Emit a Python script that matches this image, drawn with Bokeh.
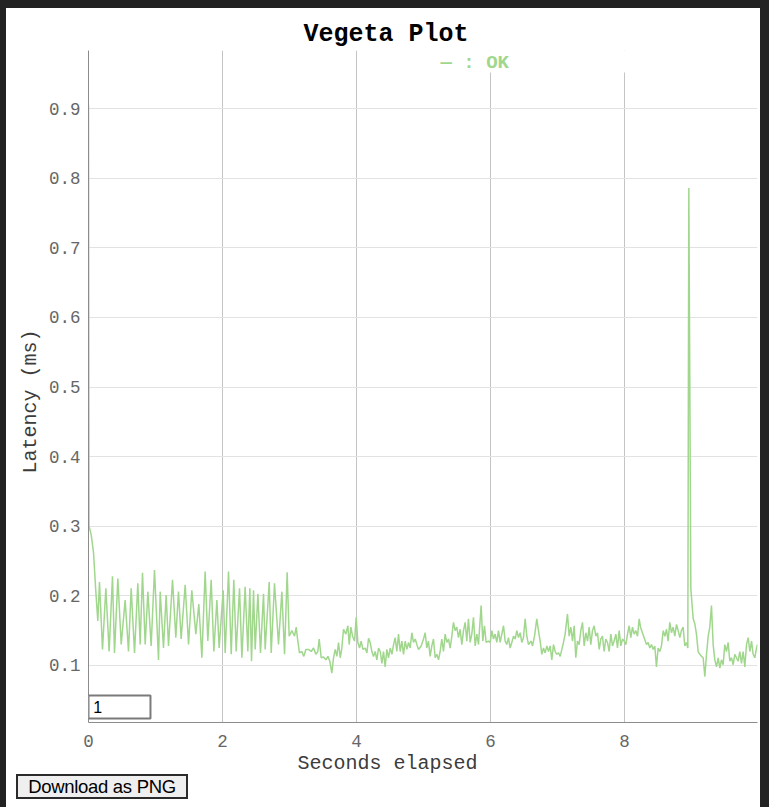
from bokeh.plotting import figure
from bokeh.models import ColumnDataSource, Range1d, FixedTicker, Label, BoxAnnotation, Title, Div
from bokeh.layouts import column
from bokeh.embed import file_html
from bokeh.resources import INLINE

# ---------------- data ----------------
chart_title = "Vegeta Plot"
series_name = "OK"
x_axis_title = "Seconds elapsed"
y_axis_title = "Latency (ms)"
x_ticks = [0, 2, 4, 6, 8]
x_tick_labels = ["0", "2", "4", "6", "8"]
y_ticks = [0.1, 0.2, 0.3, 0.4, 0.5, 0.6, 0.7, 0.8, 0.9]
y_tick_labels = ["0.1", "0.2", "0.3", "0.4", "0.5", "0.6", "0.7", "0.8", "0.9"]
roll_period = "1"
button_text = "Download as PNG"

seconds = [
    0.000, 0.008, 0.040, 0.075, 0.110, 0.139,
    0.164, 0.209, 0.259, 0.308, 0.358, 0.388, 0.438, 0.488, 0.547, 0.597,
    0.637, 0.687, 0.736, 0.771, 0.806, 0.846, 0.886, 0.935, 0.985, 1.045,
    1.070, 1.119, 1.159, 1.194, 1.254, 1.303, 1.343, 1.383, 1.443, 1.493,
    1.542, 1.602, 1.647,
    1.692, 1.741, 1.781, 1.831, 1.871, 1.916, 1.950, 2.010, 2.040, 2.090,
    2.130, 2.169, 2.204, 2.254, 2.289, 2.338, 2.378, 2.408, 2.433, 2.463,
    2.488, 2.528, 2.567, 2.612, 2.637, 2.697, 2.727, 2.776, 2.836, 2.886,
    2.926, 2.965, 2.995, 3.035, 3.075, 3.100, 3.120, 3.149, 3.184, 3.214,
    3.244,
    3.284, 3.324, 3.359, 3.393, 3.423, 3.443, 3.473, 3.508, 3.543, 3.573,
    3.602, 3.632, 3.657, 3.682, 3.707, 3.732, 3.757, 3.781, 3.806, 3.841,
    3.871, 3.891, 3.916, 3.941, 3.971, 3.995, 4.020, 4.045, 4.070, 4.095,
    4.130, 4.155, 4.180, 4.204, 4.229, 4.254, 4.279, 4.304, 4.329, 4.354,
    4.379, 4.403, 4.428, 4.453, 4.478, 4.503, 4.528, 4.553, 4.577, 4.602,
    4.627, 4.652, 4.677, 4.702, 4.727, 4.752, 4.777, 4.801, 4.826, 4.851,
    4.876, 4.901, 4.925,
    4.965, 5.000, 5.025, 5.049, 5.074, 5.099, 5.124, 5.149, 5.174, 5.199,
    5.224, 5.248, 5.273, 5.298, 5.323, 5.348, 5.373, 5.398, 5.423, 5.447,
    5.472, 5.497, 5.522, 5.547, 5.572, 5.597, 5.622, 5.646, 5.671, 5.696,
    5.721, 5.746, 5.771, 5.796, 5.821, 5.860, 5.885, 5.910, 5.935, 5.970,
    5.995, 6.020, 6.044, 6.069, 6.094, 6.119, 6.144, 6.169, 6.194, 6.219,
    6.243, 6.268, 6.293, 6.318, 6.343, 6.368, 6.393, 6.418, 6.443, 6.467,
    6.492, 6.517, 6.542, 6.567,
    6.607, 6.627, 6.657, 6.691, 6.716, 6.741, 6.766, 6.791, 6.816, 6.841,
    6.866, 6.890, 6.915, 6.940, 6.965, 6.990, 7.015, 7.040, 7.065, 7.089,
    7.114, 7.149, 7.174, 7.199, 7.224, 7.249, 7.273, 7.298, 7.323, 7.348,
    7.373, 7.398, 7.423, 7.448, 7.472, 7.497, 7.522, 7.547, 7.572, 7.597,
    7.622, 7.647, 7.671, 7.696, 7.721, 7.746, 7.771, 7.796, 7.821, 7.846,
    7.871, 7.895, 7.920, 7.945, 7.970, 7.995, 8.020, 8.045, 8.070, 8.094,
    8.119, 8.144, 8.169, 8.194, 8.219, 8.239,
    8.328, 8.353, 8.378, 8.403, 8.428, 8.452, 8.477, 8.502, 8.527, 8.552,
    8.577, 8.602, 8.627, 8.651, 8.676, 8.701, 8.726, 8.751, 8.776, 8.801,
    8.826, 8.850, 8.875, 8.900, 8.925, 8.945, 8.960, 8.990, 9.025, 9.049,
    9.074, 9.099, 9.124, 9.149, 9.174, 9.199, 9.224, 9.249, 9.273, 9.298,
    9.323, 9.348, 9.373, 9.398, 9.423, 9.447, 9.472, 9.497, 9.522, 9.547,
    9.572, 9.597, 9.622, 9.646, 9.671, 9.696, 9.721, 9.746, 9.771, 9.796,
    9.821, 9.846, 9.871, 9.896, 9.920, 9.945, 9.970, 9.985,
]

latency_ms = [
    0.905, 0.300, 0.288, 0.262, 0.205, 0.164,
    0.220, 0.123, 0.211, 0.120, 0.228, 0.118, 0.225, 0.130, 0.194, 0.120,
    0.211, 0.118, 0.218, 0.130, 0.233, 0.130, 0.206, 0.128, 0.237, 0.108,
    0.206, 0.125, 0.201, 0.128, 0.223, 0.140, 0.206, 0.138, 0.216, 0.130,
    0.208, 0.145, 0.188,
    0.111, 0.235, 0.135, 0.223, 0.120, 0.194, 0.125, 0.208, 0.118, 0.235,
    0.116, 0.223, 0.120, 0.211, 0.111, 0.213, 0.120, 0.211, 0.106, 0.208,
    0.123, 0.203, 0.118, 0.203, 0.123, 0.220, 0.118, 0.218, 0.130, 0.206,
    0.116, 0.234, 0.142, 0.150, 0.142, 0.155, 0.138, 0.118, 0.120, 0.113,
    0.123,
    0.123, 0.120, 0.125, 0.116, 0.120, 0.138, 0.111, 0.112, 0.108, 0.113,
    0.106, 0.089, 0.111, 0.123, 0.113, 0.133, 0.111, 0.125, 0.152, 0.145,
    0.157, 0.130, 0.155, 0.142, 0.135, 0.169, 0.133, 0.125, 0.135, 0.123,
    0.125, 0.118, 0.139, 0.133, 0.120, 0.113, 0.120, 0.108, 0.125, 0.120,
    0.103, 0.120, 0.098, 0.123, 0.111, 0.125, 0.116, 0.130, 0.140, 0.120,
    0.145, 0.120, 0.135, 0.116, 0.135, 0.123, 0.133, 0.125, 0.147, 0.133,
    0.138, 0.130, 0.123,
    0.128, 0.138, 0.147, 0.125, 0.135, 0.113, 0.128, 0.138, 0.111, 0.116,
    0.108, 0.120, 0.138, 0.120, 0.145, 0.133, 0.138, 0.125, 0.142, 0.162,
    0.150, 0.155, 0.140, 0.152, 0.130, 0.150, 0.162, 0.135, 0.167, 0.133,
    0.145, 0.169, 0.128, 0.145, 0.130, 0.186, 0.135, 0.157, 0.133, 0.135,
    0.133, 0.150, 0.138, 0.145, 0.133, 0.150, 0.133, 0.145, 0.157, 0.135,
    0.130, 0.140, 0.125, 0.133, 0.142, 0.138, 0.150, 0.140, 0.147, 0.133,
    0.140, 0.167, 0.142, 0.130,
    0.135, 0.128, 0.142, 0.167, 0.150, 0.135, 0.116, 0.125, 0.118, 0.128,
    0.120, 0.128, 0.108, 0.130, 0.120, 0.116, 0.118, 0.113, 0.123, 0.133,
    0.145, 0.174, 0.142, 0.155, 0.135, 0.157, 0.111, 0.135, 0.130, 0.150,
    0.162, 0.128, 0.147, 0.135, 0.155, 0.130, 0.150, 0.157, 0.142, 0.147,
    0.123, 0.138, 0.142, 0.120, 0.138, 0.133, 0.120, 0.145, 0.128, 0.135,
    0.145, 0.125, 0.150, 0.128, 0.138, 0.135, 0.130, 0.145, 0.157, 0.140,
    0.155, 0.145, 0.150, 0.142, 0.167, 0.155,
    0.130, 0.133, 0.125, 0.130, 0.123, 0.128, 0.098, 0.125, 0.120, 0.128,
    0.150, 0.142, 0.152, 0.135, 0.162, 0.147, 0.155, 0.142, 0.159, 0.150,
    0.140, 0.150, 0.155, 0.128, 0.133, 0.125, 0.786, 0.210, 0.167, 0.160,
    0.145, 0.120, 0.116, 0.113, 0.111, 0.084, 0.116, 0.142, 0.155, 0.186,
    0.130, 0.108, 0.098, 0.111, 0.096, 0.108, 0.101, 0.130, 0.120, 0.133,
    0.106, 0.111, 0.101, 0.116, 0.111, 0.106, 0.120, 0.103, 0.120, 0.098,
    0.130, 0.140, 0.120, 0.135, 0.116, 0.111, 0.125, 0.130,
]

# ---------------- styling ----------------
MONO = "Liberation Mono"
SANS = "Liberation Sans"
GREEN = "#a0d78d"

source = ColumnDataSource(data=dict(seconds=seconds, latency=latency_ms))

p = figure(
    width=754, height=766,
    output_backend="svg", toolbar_location=None,
    x_range=Range1d(0, 9.985), y_range=Range1d(0.018, 0.9836),
    min_border_left=82, min_border_right=3, min_border_top=42, min_border_bottom=52,
    background_fill_color="white", border_fill_color="white",
)
p.outline_line_color = None

# title
p.title.text = chart_title
p.title.align = "left"
p.title.offset = 215
p.title.standoff = 3
p.title.text_font = MONO
p.title.text_font_size = "25px"
p.title.text_font_style = "bold"
p.title.text_color = "#000000"

# x axis
p.xaxis.ticker = FixedTicker(ticks=x_ticks)
p.xaxis.major_label_overrides = dict(zip(x_ticks, x_tick_labels))
p.xaxis.major_label_standoff = 12
# y axis
p.yaxis.ticker = FixedTicker(ticks=y_ticks)
p.yaxis.major_label_overrides = dict(zip(y_ticks, y_tick_labels))
p.yaxis.major_label_standoff = 8

for ax in (p.xaxis, p.yaxis):
    ax.major_tick_out = 0
    ax.major_tick_in = 0
    ax.minor_tick_out = 0
    ax.minor_tick_in = 0
    ax.major_tick_line_color = None
    ax.minor_tick_line_color = None
    ax.axis_line_color = "#8c8c8c"
    ax.axis_line_width = 1
    ax.major_label_text_font = MONO
    ax.major_label_text_font_size = "17.5px"
    ax.major_label_text_color = "#666666"

# axis titles as side titles, so they can be centred like the reference
p.add_layout(Title(text=x_axis_title, align="left", offset=209, standoff=0,
                   text_font=MONO, text_font_size="20px", text_font_style="normal",
                   text_color="#3c3c3c"), "below")
p.add_layout(Title(text=y_axis_title, align="left", offset=249, standoff=7,
                   text_font=MONO, text_font_size="20px", text_font_style="normal",
                   text_color="#3c3c3c"), "left")

# grids
p.xgrid.ticker = FixedTicker(ticks=x_ticks)
p.ygrid.ticker = FixedTicker(ticks=y_ticks)
p.xgrid.grid_line_color = "#c4c4c4"
p.ygrid.grid_line_color = "#e2e2e2"

# series
p.line("seconds", "latency", source=source, line_color=GREEN, line_width=1.5)

# legend (dygraphs style, white box hides the grid behind it)
p.add_layout(BoxAnnotation(left=4.66, right=9.985, bottom=0.952, top=0.9836,
                           fill_color="white", fill_alpha=1.0, line_alpha=0.0))
p.add_layout(Label(x=5.254, y=0.966, text="\u2014 : " + series_name,
                   text_font=MONO, text_font_size="19px", text_font_style="bold",
                   text_color=GREEN, text_baseline="middle", text_align="left"))

# roll-period input box
p.add_layout(BoxAnnotation(left=0, right=0.925, bottom=0.0239, top=0.0569,
                           fill_color="white", fill_alpha=1.0,
                           line_color="#7a7a7a", line_width=2, line_alpha=1.0))
p.add_layout(Label(x=0.07, y=0.0404, text=roll_period, text_font=SANS,
                   text_font_size="16px", text_color="#000000",
                   text_baseline="middle", text_align="left"))

button = Div(
    text=('<button style="box-sizing:border-box;width:172px;height:25px;margin:0 0 0 10px;'
          'padding:0;font-family:\'Liberation Sans\',Arial,sans-serif;font-size:18.5px;'
          'letter-spacing:-0.3px;color:#000;background:#efefef;border:2px solid #2b2b2b;'
          'border-radius:0;">' + button_text + '</button>'),
    width=754, height=33, margin=0, styles={"background-color": "white"},
)

layout = column(p, button, spacing=0)

PAGE = """{% block postamble %}<style>
html, body { margin: 0 !important; padding: 0 !important; }
body { box-sizing: border-box; height: 807px !important; overflow: hidden;
  background: #ffffff; border-top: 8px solid #222222;
  border-left: 6px solid #222222; border-right: 9px solid #222222; }
</style>{% endblock %}"""

open("out.html", "w").write(file_html(layout, INLINE, title=chart_title, template=PAGE))
